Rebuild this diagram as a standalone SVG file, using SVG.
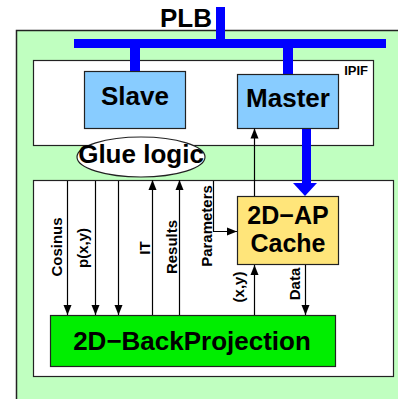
<svg xmlns="http://www.w3.org/2000/svg" width="398" height="399" viewBox="0 0 398 399">
<defs>
<style>
.box{stroke:#222;stroke-width:1.2}
.big{font-family:"Liberation Sans",Arial,sans-serif;font-weight:bold;font-size:26px;text-anchor:middle;fill:#000}
.lbl{font-family:"Liberation Sans",Arial,sans-serif;font-weight:bold;font-size:15px;text-anchor:middle;fill:#000}
.wire{stroke:#000;stroke-width:1.2;fill:none}
.bus{fill:#0000ff}
</style>
<marker id="ah" markerUnits="userSpaceOnUse" markerWidth="10" markerHeight="10" viewBox="0 0 10 10" refX="10" refY="5" orient="auto">
<path d="M0,1 L10,5 L0,9 Z" fill="#000"/>
</marker>
</defs>
<rect x="16.5" y="30.5" width="400" height="400" fill="#c0ffc0" stroke="#222" stroke-width="1.5"/>
<text class="big" x="186" y="27">PLB</text>
<g id="ipif">
<rect class="box" x="33.5" y="60.5" width="340" height="85" fill="#fff"/>
<text x="368" y="75" font-family="Liberation Sans,Arial,sans-serif" font-weight="bold" font-size="13" text-anchor="end">IPIF</text>
</g>
<g id="lower">
<rect class="box" x="33.5" y="180.5" width="360" height="196" fill="#fff"/>
</g>
<g id="plb-bus">
<rect class="bus" x="216" y="7" width="9" height="35"/>
<rect class="bus" x="74" y="39" width="312" height="9"/>
<rect class="bus" x="130" y="47" width="10" height="24"/>
<rect class="bus" x="283" y="47" width="10" height="27"/>
<rect class="bus" x="302" y="128" width="9" height="56"/>
<polygon class="bus" points="293,183 317,183 305,196"/>
</g>
<g id="slave">
<rect class="box" x="84.5" y="71.5" width="101" height="57" fill="#88ccff"/>
<text class="big" x="135" y="105">Slave</text>
</g>
<g id="master">
<rect class="box" x="237.5" y="74.5" width="101" height="54" fill="#88ccff"/>
<text class="big" x="288" y="107">Master</text>
</g>
<g id="glue">
<ellipse cx="141" cy="157" rx="64" ry="20" fill="#fff" stroke="#222" stroke-width="1.2"/>
<text class="big" x="141" y="163">Glue logic</text>
</g>
<g id="cache">
<rect class="box" x="237.5" y="196.5" width="101" height="68" fill="#ffe57a"/>
<text class="big" style="font-size:25px"><tspan x="288" y="224">2D−AP</tspan><tspan x="288" y="252">Cache</tspan></text>
</g>
<g id="backprojection">
<rect class="box" x="50.5" y="315.5" width="285" height="51" fill="#00ee00"/>
<text class="big" x="192" y="350">2D−BackProjection</text>
</g>
<g id="connectors">
<path class="wire" d="M67.5,181 V315" marker-end="url(#ah)"/>
<path class="wire" d="M95.5,181 V315" marker-end="url(#ah)"/>
<path class="wire" d="M118.5,181 V315" marker-end="url(#ah)"/>
<path class="wire" d="M152.5,315 V180" marker-end="url(#ah)"/>
<path class="wire" d="M179.5,315 V180" marker-end="url(#ah)"/>
<path class="wire" d="M213.5,181 V231.5 H237" marker-end="url(#ah)"/>
<path class="wire" d="M254.5,196 V128.5" marker-end="url(#ah)"/>
<path class="wire" d="M254.5,315 V265" marker-end="url(#ah)"/>
<path class="wire" d="M305.5,265 V315" marker-end="url(#ah)"/>
<text class="lbl" transform="translate(62,247) rotate(-90)">Cosinus</text>
<text class="lbl" transform="translate(88,248) rotate(-90)">p(x,y)</text>
<text class="lbl" transform="translate(150,248) rotate(-90)">IT</text>
<text class="lbl" transform="translate(177,247) rotate(-90)">Results</text>
<text class="lbl" transform="translate(211.5,226) rotate(-90)">Parameters</text>
<text class="lbl" transform="translate(244,287) rotate(-90)">(x,y)</text>
<text class="lbl" transform="translate(300,284) rotate(-90)">Data</text>
</g>
</svg>
